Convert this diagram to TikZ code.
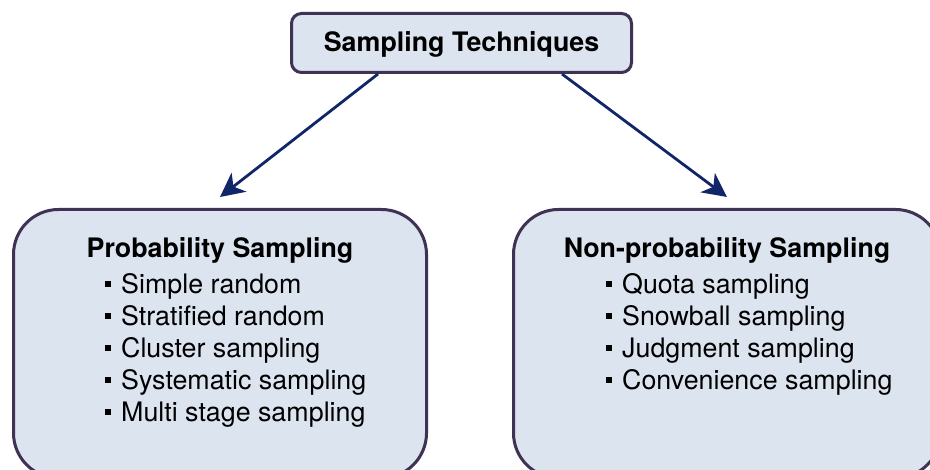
\documentclass[tikz,border=0pt]{standalone}
\usepackage{fontspec}
\setmainfont{TeX Gyre Heros}
\usetikzlibrary{arrows.meta}

\definecolor{boxline}{RGB}{64,50,84}
\definecolor{boxfill}{RGB}{220,228,240}
\definecolor{arrowblue}{RGB}{16,38,104}

\newcommand{\sqbullet}{\rule[6.5pt]{6pt}{6pt}\hspace{10pt}}

\tikzset{
  topbox/.style={draw=boxline, fill=boxfill, line width=3pt, rounded corners=10pt,
    minimum width=340pt, minimum height=59pt, inner sep=0pt},
  groupbox/.style={draw=boxline, fill=boxfill, line width=3pt, rounded corners=45pt,
    minimum height=268.5pt, inner sep=0pt},
  headtext/.style={font=\fontsize{26.8}{31}\selectfont\bfseries, inner sep=0pt, anchor=base},
  itemtext/.style={font=\fontsize{26.8}{31}\selectfont, inner sep=0pt, anchor=base west},
  branch/.style={-{Stealth[length=24pt, width=24pt, inset=7pt]}, draw=arrowblue, line width=2.8pt},
}

\begin{document}
\begin{tikzpicture}[x=1pt, y=-1pt]
    \useasboundingbox[fill=white] (0,0) rectangle (930,470);
    % boxes
    \node[topbox] (techniques) at (461.5,43) {};
    \node[groupbox, minimum width=413pt] (probability) at (220,343.75) {};
    \node[groupbox, minimum width=427pt] (nonProbability) at (727,343.75) {};
    % headings
    \node[headtext] (techniquesHead) at (461.5,51.5) {Sampling Techniques};
    \node[headtext] (probabilityHead) at (220,257.5) {Probability Sampling};
    \node[headtext] (nonProbabilityHead) at (727,257.5) {Non-probability Sampling};
    % item lists
    \foreach \txt [count=\i] in {Simple random, Stratified random, Cluster sampling,
        Systematic sampling, Multi stage sampling}
      \node[itemtext] (probItem\i) at (105,294+32*\i-32) {\sqbullet\txt};
    \foreach \txt [count=\i] in {Quota sampling, Snowball sampling, Judgment sampling,
        Convenience sampling}
      \node[itemtext] (nonProbItem\i) at (606,294+32*\i-32) {\sqbullet\txt};
    % arrows
    \draw[branch] ([xshift=-83.5pt]techniques.south) -- ([yshift=11pt]probability.north);
    \draw[branch] ([xshift=100.5pt]techniques.south) -- ([yshift=11pt]nonProbability.north);
\end{tikzpicture}
\end{document}
